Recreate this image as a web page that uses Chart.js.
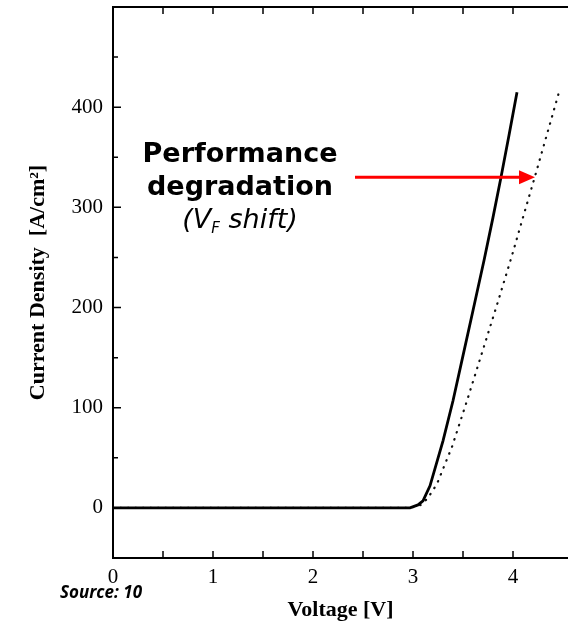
<!DOCTYPE html>
<html>
<head>
<meta charset="utf-8">
<script src="https://cdn.jsdelivr.net/npm/chart.js@4"></script>
<style>
  html, body { margin: 0; padding: 0; background: #fff; }
  #wrap { position: relative; width: 568px; height: 626px; overflow: hidden; }
  .note {
    position: absolute; left: 140px; width: 200px; text-align: center;
    font-family: "DejaVu Sans", sans-serif; color: #000; white-space: nowrap;
  }
  #perf { top: 136px; font-size: 27px; font-weight: bold; line-height: 33px; }
  #shift { top: 202px; font-size: 27px; font-style: italic; line-height: 33px; }
  #shift sub { font-size: 15px; vertical-align: -5px; line-height: 0; }
  #source {
    position: absolute; left: 60px; top: 580px;
    font-family: "Open Sans", sans-serif; font-weight: bold; font-style: italic;
    font-size: 17px; color: #000;
  }
</style>
</head>
<body>
<div id="wrap">
  <canvas id="ivChart" width="568" height="626"></canvas>
  <div class="note" id="perf">Performance<br>degradation</div>
  <div class="note" id="shift">(V<sub>F</sub> shift)</div>
  <div id="source">Source: 10</div>
</div>
<script>
// I-V curves (V in volts, J in A/cm2)
const voltsFresh = [0, 2.97, 3.05, 3.1, 3.17, 3.3, 3.4, 3.5, 3.6, 3.71, 3.8, 3.88, 3.96, 4.04];
const currentFresh = [0, 0, 3, 7, 22, 67, 107, 152, 197, 247, 290, 330, 372, 415];
const voltsDegraded = [0, 2.97, 3.08, 3.15, 3.24, 3.39, 3.54, 3.7, 3.85, 3.99, 4.1, 4.22, 4.34, 4.46];
const currentDegraded = [0, 0, 3, 10, 24, 61, 107, 158, 206, 252, 290, 331, 373, 415];

// arrow from the label to the degraded curve: [V start, V end], J level
const arrowVolts = [2.42, 4.22];
const arrowCurrent = 330;

const ctx = document.getElementById('ivChart').getContext('2d');

function toPoints(xs, ys) {
    return xs.map((x, i) => ({ x: x, y: ys[i] }));
}

// inward tick marks, top frame line and the red arrow
const framePlugin = {
    id: 'frame',
    afterDraw(chart) {
        const c = chart.ctx;
        const area = chart.chartArea;
        const xs = chart.scales.x;
        const ys = chart.scales.y;
        c.save();
        c.strokeStyle = '#000';
        c.lineWidth = 2;
        c.beginPath();
        c.moveTo(area.left, area.top);
        c.lineTo(area.right, area.top);
        c.stroke();

        c.lineWidth = 1.5;
        c.beginPath();
        ys.ticks.forEach(t => {
            if (t.value % 50 !== 0) return;
            const py = ys.getPixelForValue(t.value);
            const len = t.value % 100 === 0 ? 8 : 5;
            c.moveTo(area.left, py);
            c.lineTo(area.left + len, py);
        });
        xs.ticks.forEach(t => {
            if (Math.abs(t.value * 2 - Math.round(t.value * 2)) > 1e-6) return;
            const px = xs.getPixelForValue(t.value);
            c.moveTo(px, area.bottom);
            c.lineTo(px, area.bottom - 7);
            c.moveTo(px, area.top);
            c.lineTo(px, area.top + 7);
        });
        c.stroke();

        // arrow
        const x0 = xs.getPixelForValue(arrowVolts[0]);
        const x1 = xs.getPixelForValue(arrowVolts[1]);
        const ay = ys.getPixelForValue(arrowCurrent);
        c.strokeStyle = '#f00';
        c.fillStyle = '#f00';
        c.lineWidth = 3;
        c.beginPath();
        c.moveTo(x0, ay);
        c.lineTo(x1 - 14, ay);
        c.stroke();
        c.beginPath();
        c.moveTo(x1, ay);
        c.lineTo(x1 - 16, ay - 7);
        c.lineTo(x1 - 16, ay + 7);
        c.closePath();
        c.fill();
        c.restore();
    }
};

new Chart(ctx, {
    type: 'line',
    data: {
        datasets: [{
            label: 'Fresh',
            data: toPoints(voltsFresh, currentFresh),
            borderColor: '#000',
            borderWidth: 2.8,
            pointRadius: 0,
            tension: 0
        }, {
            label: 'Degraded',
            data: toPoints(voltsDegraded, currentDegraded),
            borderColor: '#111',
            borderWidth: 2.2,
            borderDash: [0.5, 7],
            borderCapStyle: 'round',
            pointRadius: 0,
            tension: 0
        }]
    },
    options: {
        responsive: false,
        animation: false,
        layout: { padding: { top: 7, left: 0, right: 0, bottom: 0 } },
        plugins: { legend: { display: false }, tooltip: { enabled: false } },
        scales: {
            x: {
                type: 'linear',
                min: 0,
                max: 4.55,
                grid: { display: false, drawTicks: false },
                border: { color: '#000', width: 2 },
                ticks: {
                    stepSize: 0.5,
                    padding: 7,
                    color: '#000',
                    maxRotation: 0,
                    autoSkip: false,
                    font: { family: 'Liberation Serif', size: 21 },
                    callback: v => Number.isInteger(v) ? v : ''
                },
                title: {
                    display: true,
                    text: 'Voltage [V]',
                    color: '#000',
                    padding: { top: 0, bottom: 2 },
                    font: { family: 'Liberation Serif', size: 22, weight: 'bold' }
                },
                afterFit: s => { s.height = 68; s.paddingLeft = 0; s.paddingRight = 0; }
            },
            y: {
                min: -50,
                max: 500,
                grid: { display: false, drawTicks: false },
                border: { color: '#000', width: 2 },
                ticks: {
                    stepSize: 50,
                    padding: 10,
                    color: '#000',
                    autoSkip: false,
                    font: { family: 'Liberation Serif', size: 21 },
                    callback: v => (v % 100 === 0 && v >= 0 && v <= 400) ? v : ''
                },
                title: {
                    display: true,
                    text: 'Current Density  [A/cm²]',
                    color: '#000',
                    padding: { top: 25, bottom: 0 },
                    font: { family: 'Liberation Serif', size: 22, weight: 'bold' }
                },
                afterFit: s => { s.width = 113; s.paddingTop = 0; s.paddingBottom = 0; }
            }
        }
    },
    plugins: [framePlugin]
});
</script>
</body>
</html>
